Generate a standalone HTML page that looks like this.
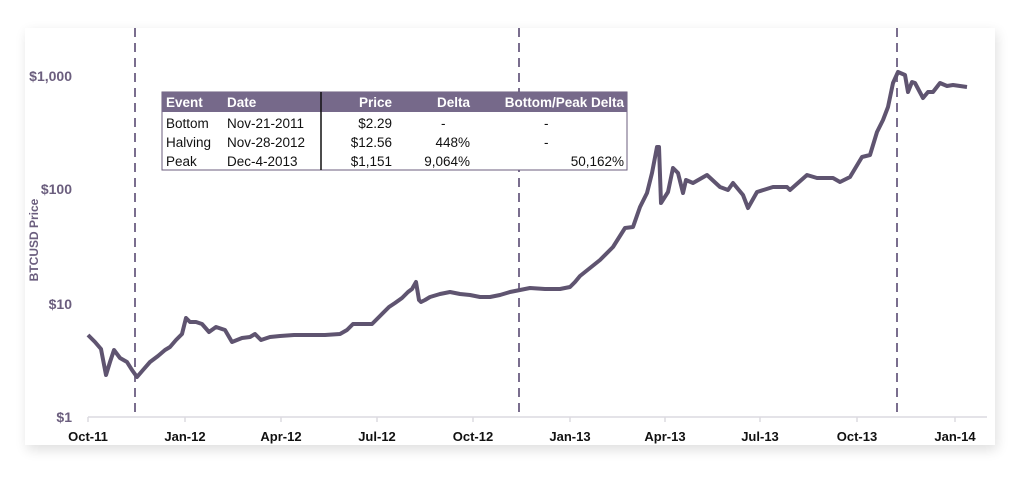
<!DOCTYPE html>
<html><head><style>
body{margin:0;background:#fff;width:1024px;height:478px;overflow:hidden;font-family:"Liberation Sans",sans-serif}
</style></head><body>
<svg width="1024" height="478" viewBox="0 0 1024 478" xmlns="http://www.w3.org/2000/svg">
<defs><filter id="sh" x="-5%" y="-10%" width="110%" height="125%"><feGaussianBlur stdDeviation="6"/></filter></defs>
<rect x="27" y="32" width="970" height="418" fill="#000" opacity="0.12" filter="url(#sh)"/>
<rect x="25" y="28" width="970" height="417" fill="#fff"/>
<g stroke="#dcdae0" stroke-width="1.5">
<line x1="88" y1="417" x2="987" y2="417"/>
<line x1="88" y1="417" x2="88" y2="422"/><line x1="185" y1="417" x2="185" y2="422"/><line x1="281" y1="417" x2="281" y2="422"/><line x1="377" y1="417" x2="377" y2="422"/><line x1="473" y1="417" x2="473" y2="422"/><line x1="570" y1="417" x2="570" y2="422"/><line x1="665" y1="417" x2="665" y2="422"/><line x1="760" y1="417" x2="760" y2="422"/><line x1="857" y1="417" x2="857" y2="422"/><line x1="955" y1="417" x2="955" y2="422"/>
</g>
<g font-size="13" font-weight="bold" fill="#111" text-anchor="middle">
<text x="88" y="441">Oct-11</text><text x="185" y="441">Jan-12</text><text x="281" y="441">Apr-12</text><text x="377" y="441">Jul-12</text><text x="473" y="441">Oct-12</text><text x="570" y="441">Jan-13</text><text x="665" y="441">Apr-13</text><text x="760" y="441">Jul-13</text><text x="857" y="441">Oct-13</text><text x="955" y="441">Jan-14</text>
</g>
<g font-size="14" font-weight="bold" fill="#6b5e7e" text-anchor="end">
<text x="72" y="81">$1,000</text><text x="72" y="194">$100</text><text x="72" y="309">$10</text><text x="72" y="422">$1</text>
</g>
<text transform="translate(38,240) rotate(-90)" font-size="12" font-weight="bold" fill="#6b5e7e" text-anchor="middle">BTCUSD Price</text>
<g stroke="#7a6e8e" stroke-width="2" stroke-dasharray="9,6">
<line x1="135" y1="28" x2="135" y2="417"/><line x1="519" y1="28" x2="519" y2="417"/><line x1="897" y1="28" x2="897" y2="417"/>
</g>
<polyline fill="none" stroke="#5f5470" stroke-width="4" stroke-linejoin="round" points="88,335 95,342 101,349 106,375 110,362 114,350 120,358 127,362 132,370 137,377 143,370 150,362 158,356 165,350 170,347 176,340 182,334 186,318 190,322 196,322 202,324 209,332 216,327 225,330 232,342 242,338 250,337 255,334 261,340 270,337 280,336 294,335 310,335 325,335 340,334 347,330 353,324 365,324 372,324 380,316 389,307 395,303 402,298 408,292 412,289 416,282 419,300 421,302 425,300 430,297 440,294 450,292 460,294 470,295 480,297 490,297 500,295 510,292 520,290 530,288 545,289 560,289 570,287 575,282 580,276 590,268 600,260 613,247 625,228 633,227 640,207 647,193 652,173 657,147 659,147 661,203 668,192 673,168 678,173 683,193 686,180 693,183 707,175 720,187 728,190 733,183 743,195 748,208 757,192 773,187 787,187 790,190 807,175 817,178 833,178 840,182 850,177 862,157 870,155 877,132 883,120 888,107 893,83 898,72 905,75 908,92 912,82 915,83 923,98 928,92 933,92 940,83 947,86 953,85 967,87"/>
<rect x="162" y="92" width="465" height="78" fill="#fff" stroke="#6b5e7e" stroke-width="1"/>
<rect x="162" y="92" width="465" height="20" fill="#76698a"/>
<line x1="321" y1="92" x2="321" y2="170" stroke="#111" stroke-width="1.5"/>
<g font-size="13.5" font-weight="bold" fill="#fff">
<text x="166" y="107">Event</text><text x="227" y="107">Date</text>
<text x="392" y="107" text-anchor="end">Price</text><text x="470" y="107" text-anchor="end">Delta</text><text x="624" y="107" text-anchor="end">Bottom/Peak Delta</text>
</g>
<g font-size="13.5" fill="#111">
<text x="166" y="128">Bottom</text><text x="227" y="128">Nov-21-2011</text><text x="392" y="128" text-anchor="end">$2.29</text><text x="441" y="128">-</text><text x="544" y="128">-</text>
<text x="166" y="147">Halving</text><text x="227" y="147">Nov-28-2012</text><text x="392" y="147" text-anchor="end">$12.56</text><text x="470" y="147" text-anchor="end">448%</text><text x="544" y="147">-</text>
<text x="166" y="166">Peak</text><text x="227" y="166">Dec-4-2013</text><text x="392" y="166" text-anchor="end">$1,151</text><text x="470" y="166" text-anchor="end">9,064%</text><text x="624" y="166" text-anchor="end">50,162%</text>
</g>
</svg>
</body></html>
